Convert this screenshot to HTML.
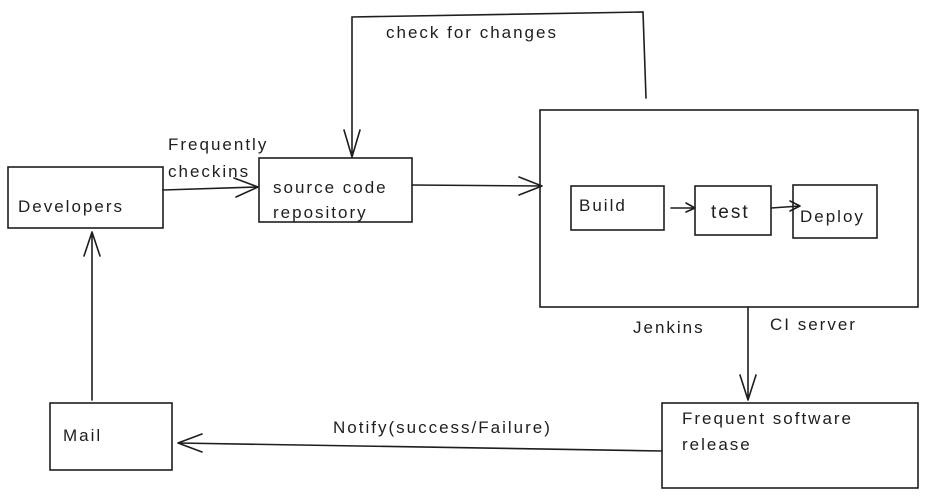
<!DOCTYPE html>
<html><head><meta charset="utf-8"><style>
html,body{margin:0;padding:0;background:#fff;width:929px;height:499px;overflow:hidden}
text{font-family:"Liberation Sans",sans-serif;font-size:17px;letter-spacing:2px;fill:#1e1e1e}
</style></head><body>
<svg width="929" height="499" viewBox="0 0 929 499" xmlns="http://www.w3.org/2000/svg">
<g fill="none" stroke="#1e1e1e" stroke-width="1.6" stroke-linecap="round">
<rect x="8" y="167" width="155" height="61"/>
<rect x="259" y="158" width="153" height="64"/>
<rect x="540" y="110" width="378" height="197"/>
<rect x="571" y="186" width="93" height="44"/>
<rect x="695" y="186" width="76" height="49"/>
<rect x="793" y="185" width="84" height="53"/>
<rect x="662" y="403" width="256" height="85"/>
<rect x="50" y="403" width="122" height="67"/>
<path d="M163 190 L258 187 M258 187 L234 178 M258 187 L236 197"/>
<path d="M412 185 L542 186 M542 186 L519 177 M542 186 L519 195"/>
<path d="M671 208 L695 208 M695 208 L686 203 M695 208 L686 212"/>
<path d="M771 208 L800 206 M800 206 L790 201 M800 206 L790 211"/>
<path d="M646 98 L643 12 L352 17 L352 157 M352 157 L344 130 M352 157 L360 130"/>
<path d="M748 307 L748 400 M748 400 L740 375 M748 400 L756 375"/>
<path d="M662 451 L178 443 M178 443 L202 434 M178 443 L202 452"/>
<path d="M92 400 L92 232 M92 232 L84 256 M92 232 L100 256"/>
</g>
<text x="18" y="212">Developers</text>
<text x="273" y="193">source code</text>
<text x="273" y="218">repository</text>
<text x="168" y="150">Frequently</text>
<text x="168" y="177">checkins</text>
<text x="579" y="211">Build</text>
<text x="711" y="218" style="font-size:19px">test</text>
<text x="800" y="222">Deploy</text>
<text x="386" y="38">check for changes</text>
<text x="633" y="333">Jenkins</text>
<text x="770" y="330">CI server</text>
<text x="682" y="424">Frequent software</text>
<text x="682" y="450">release</text>
<text x="333" y="433">Notify(success/Failure)</text>
<text x="63" y="441">Mail</text>
</svg>
</body></html>
